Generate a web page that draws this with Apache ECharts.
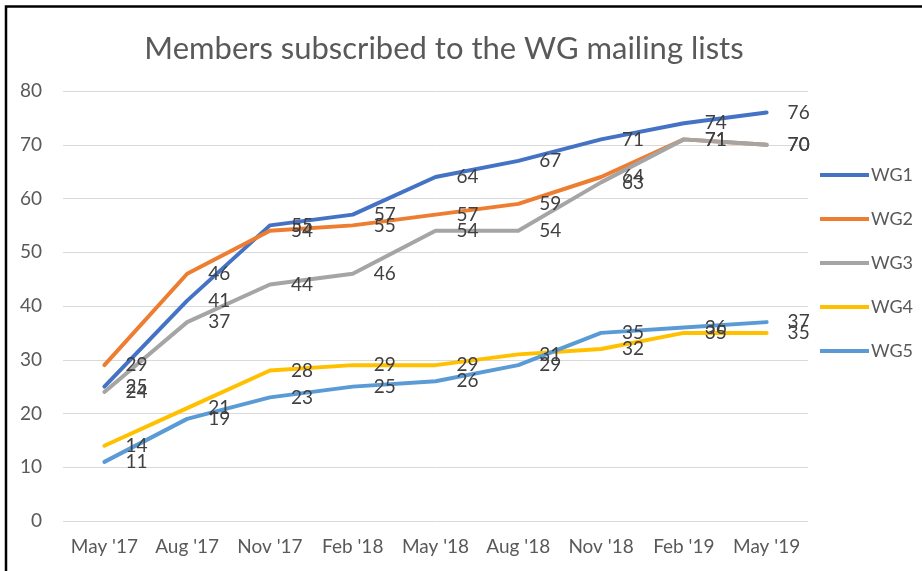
<!DOCTYPE html>
<html>
<head>
<meta charset="utf-8">
<script src="https://cdn.jsdelivr.net/npm/echarts@6/dist/echarts.min.js"></script>
<style>
  html, body { margin: 0; padding: 0; background: #fff; }
  #chart { width: 922px; height: 571px; }
</style>
</head>
<body>
<div id="chart"></div>
<script>
const months = ["May '17", "Aug '17", "Nov '17", "Feb '18", "May '18", "Aug '18", "Nov '18", "Feb '19", "May '19"];
const wg1 = [25, 41, 55, 57, 64, 67, 71, 74, 76];
const wg2 = [29, 46, 54, 55, 57, 59, 64, 71, 70];
const wg3 = [24, 37, 44, 46, 54, 54, 63, 71, 70];
const wg4 = [14, 21, 28, 29, 29, 31, 32, 35, 35];
const wg5 = [11, 19, 23, 25, 26, 29, 35, 36, 37];
const seriesNames = ['WG1', 'WG2', 'WG3', 'WG4', 'WG5'];
const colors = ['#4472C4', '#ED7D31', '#A5A5A5', '#FFC000', '#5B9BD5'];

const font = 'Lato';
let chart = echarts.init(document.getElementById('chart'));

function makeSeries(name, values, color) {
    return {
        name: name,
        type: 'line',
        data: values,
        symbol: 'circle',
        symbolSize: 0,
        showSymbol: true,
        smooth: false,
        lineStyle: { width: 4, color: color, cap: 'round', join: 'round' },
        itemStyle: { color: color },
        label: {
            show: true,
            position: 'right',
            distance: 21,
            color: '#404040',
            fontSize: 19,
            fontFamily: font
        },
        emphasis: { disabled: true }
    };
}

const option = {
    animation: false,
    color: colors,
    title: {
        text: 'Members subscribed to the WG mailing lists',
        left: 439,
        textAlign: 'center',
        top: 28,
        textStyle: {
            color: '#595959',
            fontSize: 31,
            fontWeight: 'normal',
            fontFamily: font
        }
    },
    grid: {
        left: 63,
        right: 114,
        top: 91,
        bottom: 50,
        containLabel: false
    },
    legend: {
        orient: 'vertical',
        left: 815,
        top: 161,
        itemGap: 26,
        itemWidth: 49,
        itemHeight: 4,
        icon: 'rect',
        textStyle: { color: '#595959', fontSize: 18, fontFamily: font, padding: [0, 0, 0, -3] },
        data: seriesNames
    },
    xAxis: {
        type: 'category',
        data: months,
        boundaryGap: true,
        axisLine: { show: false },
        axisTick: { show: false },
        axisLabel: { color: '#595959', fontSize: 19, fontFamily: font, margin: 16, interval: 0 }
    },
    yAxis: {
        type: 'value',
        min: 0,
        max: 80,
        interval: 10,
        axisLine: { show: false },
        axisTick: { show: false },
        axisLabel: { color: '#595959', fontSize: 19, fontFamily: font, margin: 21 },
        splitLine: { lineStyle: { color: '#D9D9D9', width: 1 } }
    },
    series: [
        makeSeries('WG1', wg1, colors[0]),
        makeSeries('WG2', wg2, colors[1]),
        makeSeries('WG3', wg3, colors[2]),
        makeSeries('WG4', wg4, colors[3]),
        makeSeries('WG5', wg5, colors[4])
    ],
    graphic: {
        elements: [{
            type: 'polyline',
            shape: { points: [[6, 571], [6, 6.5], [922, 6.5]] },
            style: { stroke: '#000', lineWidth: 2.5, fill: null },
            silent: true
        }]
    }
};

chart.setOption(option);
</script>
</body>
</html>
